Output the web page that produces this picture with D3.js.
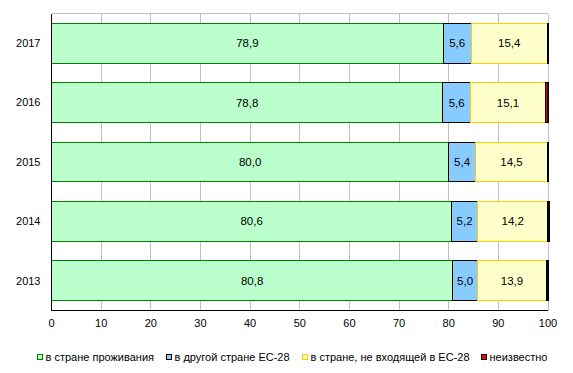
<!DOCTYPE html>
<html>
<head>
<meta charset="utf-8">
<script src="https://cdn.jsdelivr.net/npm/d3@7"></script>
<style>
    body { margin: 0; background: #fff; }
    text { font-family: "Liberation Sans", Arial, sans-serif; }
</style>
</head>
<body>
<div id="chart"></div>
<script>
// data
const years = ["2017", "2016", "2015", "2014", "2013"];
const home = [78.9, 78.8, 80.0, 80.6, 80.8];
const otherEU = [5.6, 5.6, 5.4, 5.2, 5.0];
const nonEU = [15.4, 15.1, 14.5, 14.2, 13.9];
const unknown = [0.1, 0.5, 0.1, 0.1, 0.3];
const xTicks = [0, 10, 20, 30, 40, 50, 60, 70, 80, 90, 100];
const seriesNames = ["в стране проживания", "в другой стране ЕС-28", "в стране, не входящей в ЕС-28", "неизвестно"];

draw_chart();

function draw_chart() {
    const config = {
        width: 573,
        height: 373,
        margin: { top: 13.5, left: 51.5, bottom: 62.5, right: 25 },
        fills: ["#bbffcc", "#88ccff", "#ffffcc", "#ff0000"],
        strokes: ["#008000", "#000000", "#ffcc00", "#000000"],
        font: "11px"
    }
    const svg = d3.select("#chart")
        .append("svg")
        .attr("width", config.width)
        .attr("height", config.height)

    const series = [home, otherEU, nonEU, unknown];
    const rows = years.map((y, i) => {
        let row = { year: y, segs: [] };
        let acc = 0;
        series.forEach((s, k) => {
            row.segs.push({ k: k, x0: acc, x1: acc + s[i], v: s[i] });
            acc += s[i];
        })
        return row;
    })

    const scale_x = d3.scaleLinear()
        .domain([0, 100])
        .range([config.margin.left, config.width - config.margin.right]);
    const scale_y = d3.scaleBand()
        .domain(years)
        .range([config.margin.top, config.height - config.margin.bottom])
        .paddingInner(0.33)
        .paddingOuter(0.165);

    // grid + frame
    const g_grid = svg.append("g").attr("shape-rendering", "crispEdges")
    g_grid.selectAll("line")
        .data(xTicks.slice(1))
        .join("line")
        .attr("x1", d => scale_x(d))
        .attr("x2", d => scale_x(d))
        .attr("y1", config.margin.top)
        .attr("y2", config.height - config.margin.bottom)
        .attr("stroke", "#c0c0c0")
    g_grid.append("line")
        .attr("x1", scale_x(0))
        .attr("x2", scale_x(100))
        .attr("y1", config.margin.top)
        .attr("y2", config.margin.top)
        .attr("stroke", "#c0c0c0")

    // bars
    const g_bar = svg.append("g").attr("shape-rendering", "crispEdges")
    const g_row = g_bar.selectAll("g")
        .data(rows)
        .join("g")
        .attr("transform", d => `translate(0, ${scale_y(d.year)})`)
    g_row.selectAll("rect")
        .data(d => d.segs)
        .join("rect")
        .attr("x", d => scale_x(d.x0))
        .attr("width", d => Math.max(scale_x(d.x1) - scale_x(d.x0), 1))
        .attr("y", 0)
        .attr("height", scale_y.bandwidth())
        .attr("fill", d => config.fills[d.k])
        .attr("stroke", d => config.strokes[d.k])
        .attr("stroke-width", d => d.k == 3 ? 1.2 : 1)
    g_row.selectAll("text")
        .data(d => d.segs.filter(s => s.k < 3))
        .join("text")
        .attr("x", d => (scale_x(d.x0) + scale_x(d.x1)) / 2)
        .attr("y", scale_y.bandwidth() / 2)
        .attr("dy", "0.35em")
        .attr("text-anchor", "middle")
        .attr("font-size", "11.5px")
        .text(d => d.v.toFixed(1).replace(".", ","))

    // axes
    const g_axis = svg.append("g").attr("shape-rendering", "crispEdges")
    g_axis.append("line")
        .attr("x1", scale_x(0)).attr("x2", scale_x(0))
        .attr("y1", config.margin.top).attr("y2", config.height - config.margin.bottom)
        .attr("stroke", "#000")
    g_axis.append("line")
        .attr("x1", scale_x(0)).attr("x2", scale_x(100))
        .attr("y1", config.height - config.margin.bottom).attr("y2", config.height - config.margin.bottom)
        .attr("stroke", "#000")

    svg.append("g").selectAll("text")
        .data(xTicks)
        .join("text")
        .attr("x", d => scale_x(d))
        .attr("y", config.height - config.margin.bottom + 13)
        .attr("dy", "0.35em")
        .attr("text-anchor", "middle")
        .attr("font-size", config.font)
        .text(d => d)

    svg.append("g").selectAll("text")
        .data(years)
        .join("text")
        .attr("x", config.margin.left - 11)
        .attr("y", d => scale_y(d) + scale_y.bandwidth() / 2)
        .attr("dy", "0.35em")
        .attr("text-anchor", "end")
        .attr("font-size", config.font)
        .text(d => d)

    // legend
    const legendX = [37.5, 166.5, 302.5, 481.5];
    const g_legend = svg.append("g")
        .attr("transform", `translate(0, 357)`)
    const item = g_legend.selectAll("g")
        .data(seriesNames)
        .join("g")
        .attr("transform", (d, i) => `translate(${legendX[i]}, 0)`)
    item.append("rect")
        .attr("x", 0)
        .attr("y", -3)
        .attr("width", 5)
        .attr("height", 5)
        .attr("fill", (d, i) => config.fills[i])
        .attr("stroke", (d, i) => config.strokes[i])
        .attr("shape-rendering", "crispEdges")
    item.append("text")
        .attr("x", 8)
        .attr("y", 0)
        .attr("dy", "0.35em")
        .attr("font-size", config.font)
        .text(d => d)
}
</script>
</body>
</html>
